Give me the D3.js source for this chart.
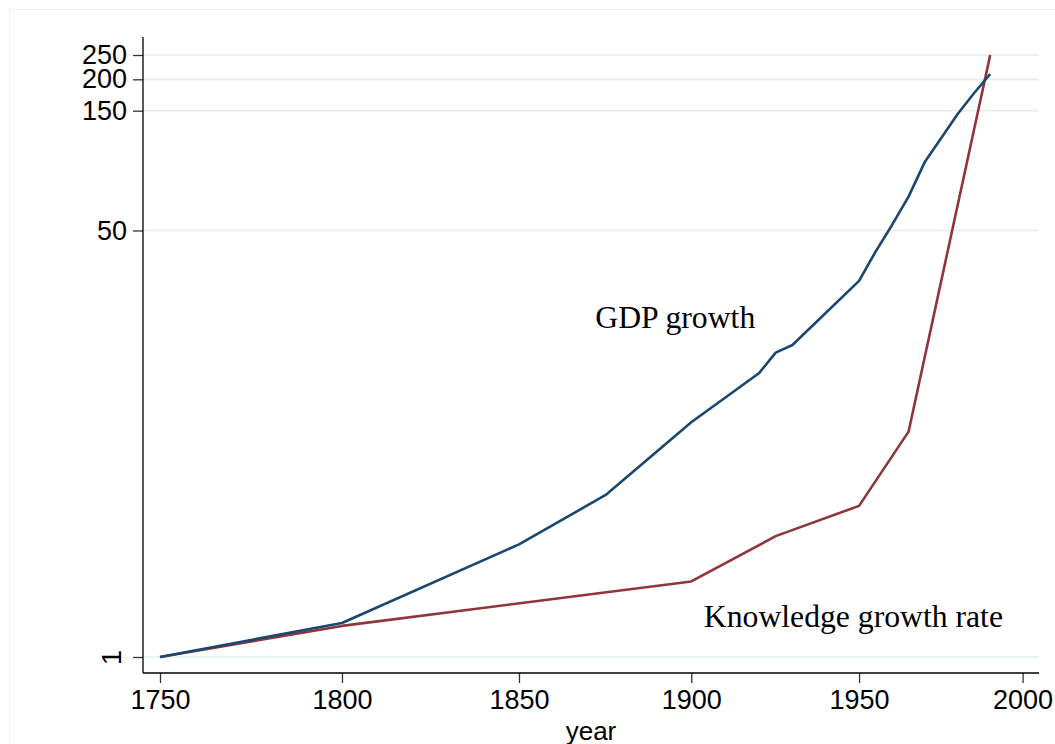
<!DOCTYPE html>
<html>
<head>
<meta charset="utf-8">
<script src="https://cdn.jsdelivr.net/npm/d3@7"></script>
<style>
  html, body { margin: 0; padding: 0; background: #ffffff; }
  svg { display: block; }
</style>
</head>
<body>
<svg id="chart" width="1055" height="744"></svg>
<script>
// Index series (1750 = 1), both drawn on log-log axes
const gdpYears = [1750, 1800, 1850, 1875, 1900, 1920, 1925, 1930, 1950, 1955, 1960, 1965, 1970, 1980, 1985, 1990];
const gdpValues = [1, 1.366, 2.81, 4.42, 8.61, 13.49, 16.3, 17.49, 31.5, 41.2, 52.6, 68.2, 94.0, 145.5, 176, 210];

const knowledgeYears = [1750, 1800, 1900, 1925, 1950, 1965, 1990];
const knowledgeValues = [1, 1.33, 2, 3.03, 4, 7.9, 250];

const xTicks = [1750, 1800, 1850, 1900, 1950, 2000];
const yTicks = [1, 50, 150, 200, 250];

// In-plot text labels, anchored at data coordinates
const labelTexts = ["GDP growth", "Knowledge growth rate"];
const labelYears = [1872, 1903.7];
const labelValues = [20.4, 1.32];

const svg = d3.select("#chart");
const W = 1055, H = 744;

// plot region bounds
const plot = { left: 143, right: 1039, top: 37, bottom: 673 };

const x = d3.scaleLog().domain([1750, 2000]).range([160, 1022.6]);
const y = d3.scaleLog().domain([1, 250]).range([657, 55]);

// faint outer frame of the graph region
svg.append("rect")
  .attr("x", 9.5).attr("y", 9.5)
  .attr("width", W + 20).attr("height", H + 20)
  .attr("fill", "none")
  .attr("stroke", "#eef2f4")
  .attr("stroke-width", 1);

// horizontal gridlines
svg.append("g")
  .selectAll("line")
  .data(yTicks)
  .join("line")
  .attr("x1", plot.left).attr("x2", plot.right)
  .attr("y1", d => y(d)).attr("y2", d => y(d))
  .attr("stroke", "#e5eef0")
  .attr("stroke-width", 1.6);

// series lines
const gdpLine = d3.line()
  .x((d, i) => x(gdpYears[i]))
  .y(d => y(d));
const knowledgeLine = d3.line()
  .x((d, i) => x(knowledgeYears[i]))
  .y(d => y(d));

svg.append("path")
  .attr("d", knowledgeLine(knowledgeValues))
  .attr("fill", "none")
  .attr("stroke", "#90353b")
  .attr("stroke-width", 2.6)
  .attr("stroke-linejoin", "round");

svg.append("path")
  .attr("d", gdpLine(gdpValues))
  .attr("fill", "none")
  .attr("stroke", "#1a476f")
  .attr("stroke-width", 2.6)
  .attr("stroke-linejoin", "round");

// axes
const xAxis = d3.axisBottom(x)
  .tickValues(xTicks)
  .tickFormat(d3.format("d"))
  .tickSize(10)
  .tickPadding(7);

const gx = svg.append("g")
  .attr("transform", `translate(0,${plot.bottom})`)
  .call(xAxis);
gx.select(".domain").remove();
gx.selectAll(".tick line").attr("stroke", "#333").attr("stroke-width", 1.3);
gx.selectAll(".tick text")
  .attr("fill", "#000")
  .style("font-family", "'Liberation Sans', Arial, sans-serif")
  .style("font-size", "27px");

const yAxis = d3.axisLeft(y)
  .tickValues(yTicks)
  .tickFormat(d3.format("d"))
  .tickSize(10)
  .tickPadding(6);

const gy = svg.append("g")
  .attr("transform", `translate(${plot.left},0)`)
  .call(yAxis);
gy.select(".domain").remove();
gy.selectAll(".tick line").attr("stroke", "#333").attr("stroke-width", 1.3);
gy.selectAll(".tick text")
  .attr("fill", "#000")
  .style("font-family", "'Liberation Sans', Arial, sans-serif")
  .style("font-size", "27px");

// the label for 1 is set vertically
gy.selectAll(".tick")
  .filter(d => d === 1)
  .select("text")
  .attr("x", null).attr("dy", null)
  .attr("text-anchor", "middle")
  .attr("transform", "translate(-22,0) rotate(-90)");

// axis lines along the plot region
svg.append("line")
  .attr("x1", plot.left).attr("x2", plot.right)
  .attr("y1", plot.bottom).attr("y2", plot.bottom)
  .attr("stroke", "#000").attr("stroke-width", 1.3);
svg.append("line")
  .attr("x1", plot.left).attr("x2", plot.left)
  .attr("y1", plot.top).attr("y2", plot.bottom)
  .attr("stroke", "#000").attr("stroke-width", 1.3);

// x axis title
svg.append("text")
  .attr("x", (plot.left + plot.right) / 2)
  .attr("y", 740)
  .attr("text-anchor", "middle")
  .style("font-family", "'Liberation Sans', Arial, sans-serif")
  .style("font-size", "26px")
  .text("year");

// in-plot labels
svg.append("g")
  .selectAll("text")
  .data(labelTexts)
  .join("text")
  .attr("x", (d, i) => x(labelYears[i]))
  .attr("y", (d, i) => y(labelValues[i]))
  .style("font-family", "'Liberation Serif', 'Times New Roman', serif")
  .style("font-size", "31.7px")
  .attr("fill", "#000")
  .text(d => d);
</script>
</body>
</html>
